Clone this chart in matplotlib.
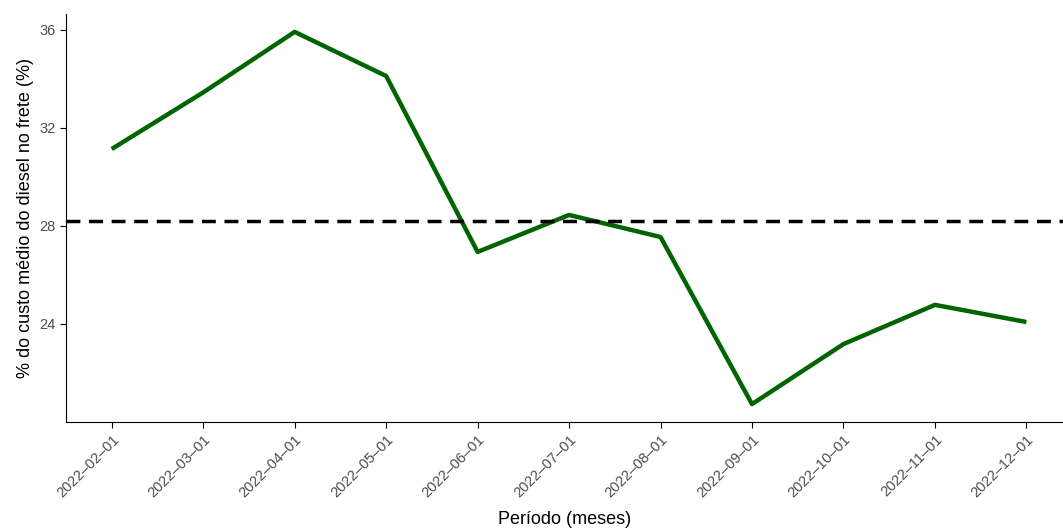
import matplotlib
matplotlib.use("Agg")
import matplotlib.pyplot as plt

months = ["2022-02-01","2022-03-01","2022-04-01","2022-05-01","2022-06-01","2022-07-01",
          "2022-08-01","2022-09-01","2022-10-01","2022-11-01","2022-12-01"]
values = [31.14,33.45,35.92,34.12,26.94,28.45,27.55,20.73,23.18,24.78,24.08]
mean_val = sum(values)/len(values)

plt.rcParams['font.family'] = ['Liberation Sans', 'DejaVu Sans']
fig = plt.figure(figsize=(10.63,5.32), dpi=100)
ax = fig.add_axes([66/1063, 1-422/532, 1-66/1063, (422-14)/532])
x = list(range(len(months)))
ax.plot(x, values, color="#006400", lw=3.2, solid_capstyle='butt')
ax.axhline(mean_val, color="black", lw=2.5, ls=(0,(4,2.5)))
ax.set_xlim(-0.5, 10.4)
ax.set_ylim(20.0, 36.65)
ax.set_yticks([24,28,32,36])
ax.set_xticks(x)
ax.set_xticklabels([m.replace("-", "\u2013") for m in months], rotation=45, ha='right', rotation_mode='anchor')
ax.tick_params(labelsize=10.5, colors="#4d4d4d", length=4)
ax.tick_params(axis='both', color='black')
for s in ["top","right"]:
    ax.spines[s].set_visible(False)
ax.set_ylabel("% do custo médio do diesel no frete (%)", fontsize=13)
ax.set_xlabel("Período (meses)", fontsize=13, labelpad=8)
fig.savefig("out.png", dpi=100)
